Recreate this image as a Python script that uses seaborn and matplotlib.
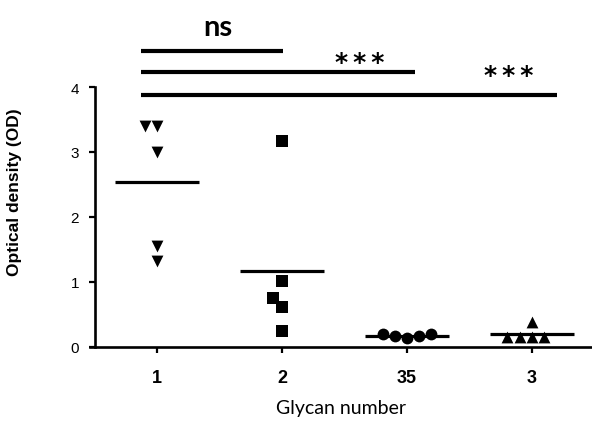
import numpy as np
import pandas as pd
import matplotlib
matplotlib.use("Agg")
import matplotlib.pyplot as plt
import seaborn as sns

# ---- data ----
categories = ["1", "2", "35", "3"]
od_glycan_1 = [3.40, 3.40, 3.00, 1.55, 1.32]
od_glycan_2 = [3.17, 1.02, 0.75, 0.62, 0.25]
od_glycan_35 = [0.20, 0.17, 0.14, 0.17, 0.20]
od_glycan_3 = [0.39, 0.16, 0.16, 0.16, 0.16]
markers = ["v", "s", "o", "^"]
y_ticks = [0, 1, 2, 3, 4]

# significance comparisons: (from group, to group, label)
comparisons = [("1", "2", "ns"), ("1", "35", "***"), ("1", "3", "***")]

values = [od_glycan_1, od_glycan_2, od_glycan_35, od_glycan_3]
df = pd.DataFrame({
    "glycan": np.repeat(categories, [len(v) for v in values]),
    "od": np.concatenate(values),
})

sns.set_theme(style="ticks", rc={"text.color": "black", "axes.labelcolor": "black",
                                 "xtick.color": "black", "ytick.color": "black",
                                 "axes.edgecolor": "black"})
plt.rcParams["font.family"] = ["Liberation Sans", "DejaVu Sans"]

fig = plt.figure(figsize=(5.92, 4.27), dpi=100)
W, H = 592, 427
ax = fig.add_axes([90 / W, (H - 348) / H, (592 - 90) / W, (348 - 88) / H])

for cat, mk in zip(categories, markers):
    sub = df[df["glycan"] == cat]
    sns.swarmplot(data=sub, x="glycan", y="od", order=categories, marker=mk,
                  color="black", size=8.5, linewidth=0, ax=ax, clip_on=False)

sns.pointplot(data=df, x="glycan", y="od", order=categories, estimator="mean",
              errorbar=None, linestyle="none", markers="_", markersize=61,
              markeredgewidth=2.3, color="black", ax=ax)

ax.set_xlim(-0.536, 3.48)
ax.set_ylim(0, 4)
ax.set_yticks(y_ticks)
ax.set_yticklabels([str(t) for t in y_ticks], fontsize=8.5, fontweight="bold")
ax.spines["left"].set_position(("data", -0.5))
ax.spines["left"].set_linewidth(1.9)
ax.spines["bottom"].set_linewidth(1.9)
ax.spines["right"].set_visible(False)
ax.spines["top"].set_visible(False)
ax.tick_params(axis="y", length=4, width=1.6, pad=7, colors="black")
ax.tick_params(axis="x", length=4, width=1.6, pad=12, colors="black")
for lab in ax.get_xticklabels():
    lab.set_fontsize(13)
    lab.set_fontweight("bold")

ax.set_xlabel("Glycan number", fontsize=14, family=["Lato", "DejaVu Sans"],
              labelpad=9, color="black")
ax.set_ylabel("Optical density (OD)", fontsize=12.5, fontweight="bold", color="black")
ax.yaxis.set_label_coords(-0.135, 0.6)

# significance bars
levels = [4.55, 4.23, 3.88]
text_levels = [4.92, 4.38, 4.19]
text_x = [0.49, 1.62, 2.81]
for (a, b, lab), lv, ty, tx in zip(comparisons, levels, text_levels, text_x):
    xa = categories.index(a) - 0.13
    xb = categories.index(b) + (0.01 if b == "2" else (0.06 if b == "35" else 0.2))
    ax.plot([xa, xb], [lv, lv], color="black", lw=3, clip_on=False, solid_capstyle="butt")
    if lab == "ns":
        ax.text(tx, ty, lab, ha="center", va="center", fontsize=21,
                fontweight="bold", family=["Lato", "DejaVu Sans"], clip_on=False)
    else:
        ax.text(tx, ty, "\u2009".join(lab), ha="center", va="center", fontsize=18,
                fontweight="bold", family=["DejaVu Sans"], clip_on=False)

fig.savefig("out.png", dpi=100)
